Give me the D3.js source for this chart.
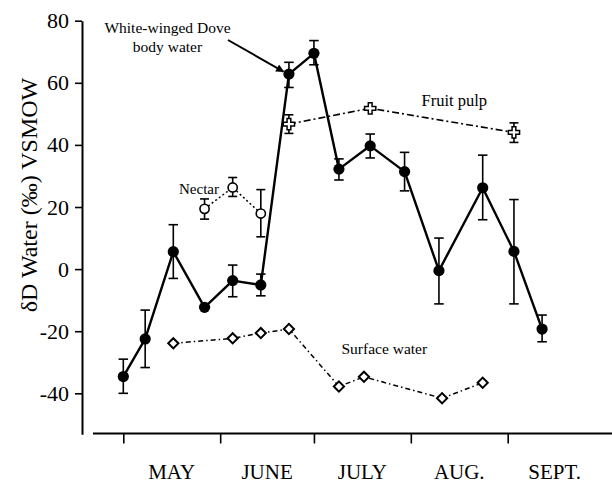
<!DOCTYPE html>
<html>
<head>
<meta charset="utf-8">
<script src="https://cdn.jsdelivr.net/npm/d3@7/dist/d3.min.js"></script>
<style>
  html, body { margin: 0; padding: 0; background: #fff; }
  svg { display: block; }
  svg text { font-family: "Liberation Serif", "Times New Roman", Times, "DejaVu Serif", serif; fill: #000; }
</style>
</head>
<body>
<svg id="chart" width="612" height="487"></svg>
<script>
// Sampling dates (month-day, one season)
const doveDates  = ["05-01","05-08","05-17","05-27","06-05","06-14","06-23","07-01","07-09","07-19","07-30","08-10","08-24","09-03","09-12"];
const doveMean   = [-34.6, -22.5, 5.6, -12.3, -3.7, -5.1, 62.8, 69.5, 32.2, 39.7, 31.4, -0.5, 26.2, 5.7, -19.3];
const doveHigh   = [-29.0, -13.2, 14.3, null, 1.3, -1.6, 66.6, 73.6, 35.5, 43.5, 37.6, 10.0, 36.7, 22.4, -14.8];
const doveLow    = [-40.0, -31.7, -3.0, null, -8.9, -8.6, 58.5, 65.8, 28.7, 35.8, 25.2, -11.2, 15.9, -11.2, -23.4];

const nectarDates = ["05-27","06-05","06-14"];
const nectarMean  = [19.4, 26.3, 17.9];
const nectarHigh  = [22.6, 29.5, 25.6];
const nectarLow   = [16.1, 23.4, 10.4];

const fruitDates = ["06-23","07-19","09-03"];
const fruitMean  = [46.7, 51.8, 44.0];
const fruitHigh  = [49.7, null, 47.1];
const fruitLow   = [43.7, null, 40.8];

const surfaceDates = ["05-17","06-05","06-14","06-23","07-09","07-17","08-11","08-24"];
const surfaceMean  = [-23.9, -22.3, -20.6, -19.3, -37.8, -34.7, -41.6, -36.6];

const monthLabels = ["MAY","JUNE","JULY","AUG.","SEPT."];
const monthStarts = ["05-01","06-01","07-01","08-01","09-01","10-01"];
const yTicks = [-40, -20, 0, 20, 40, 60, 80];

const SERIF = "'Liberation Serif', 'Times New Roman', Times, 'DejaVu Serif', serif";

const parse = d3.timeParse("%Y-%m-%d");
const day = s => parse("1996-" + s);

function series(dates, mean, high, low) {
  return dates.map((d, i) => ({
    date: day(d), v: mean[i],
    hi: high ? high[i] : null, lo: low ? low[i] : null
  }));
}
const dove = series(doveDates, doveMean, doveHigh, doveLow);
const nectar = series(nectarDates, nectarMean, nectarHigh, nectarLow);
const fruit = series(fruitDates, fruitMean, fruitHigh, fruitLow);
const surface = series(surfaceDates, surfaceMean, null, null);

const svg = d3.select("#chart");

const x = d3.scaleTime().domain([day("05-01"), day("09-01")]).range([123.3, 507.7]);
const y = d3.scaleLinear().domain([-53.2, 80]).range([434.3, 20.7]);

// Y axis
const yAxis = svg.append("g")
  .attr("transform", "translate(82,0)")
  .attr("font-family", SERIF)
  .call(d3.axisLeft(y).tickValues(yTicks).tickSize(7).tickSizeOuter(0).tickPadding(6)
    .tickFormat(d => String(d)));
yAxis.attr("font-family", SERIF).attr("font-size", 22);
yAxis.select(".domain").attr("stroke-width", 2);
yAxis.selectAll(".tick line").attr("stroke-width", 1.6);
yAxis.selectAll(".tick text")
  .attr("font-family", SERIF)
  .style("font-family", SERIF)
  .style("font-size", "22px");

svg.append("text")
  .attr("transform", "translate(37,195) rotate(-90)")
  .attr("text-anchor", "middle")
  .attr("font-family", SERIF)
  .style("font-size", "24px")
  .text("δD Water (‰) VSMOW");

// X axis: baseline, month-start ticks, month names centred in each month
const xAxisY = 433.5;
svg.append("line")
  .attr("x1", 93).attr("x2", 612).attr("y1", xAxisY).attr("y2", xAxisY)
  .attr("stroke", "#000").attr("stroke-width", 2);
const xAxis = svg.append("g")
  .attr("transform", `translate(0,${xAxisY})`)
  .call(d3.axisBottom(x).tickValues(monthStarts.slice(0, 5).map(day)).tickSize(10).tickFormat(""));
xAxis.select(".domain").remove();
xAxis.selectAll(".tick line").attr("stroke-width", 1.6);

svg.append("g").selectAll("text")
  .data(monthLabels)
  .join("text")
  .attr("x", (d, i) => (x(day(monthStarts[i])) + x(day(monthStarts[i + 1]))) / 2)
  .attr("y", 479)
  .attr("text-anchor", "middle")
  .attr("font-family", SERIF)
  .style("font-size", "21px")
  .text(d => d);

// Error bars with caps
function errorBars(data, capW) {
  const g = svg.append("g").attr("stroke", "#000").attr("stroke-width", 1.6);
  const withErr = data.filter(d => d.hi != null);
  g.selectAll("line.stem").data(withErr).join("line")
    .attr("x1", d => x(d.date)).attr("x2", d => x(d.date))
    .attr("y1", d => y(d.hi)).attr("y2", d => y(d.lo));
  g.selectAll("line.top").data(withErr).join("line")
    .attr("x1", d => x(d.date) - capW / 2).attr("x2", d => x(d.date) + capW / 2)
    .attr("y1", d => y(d.hi)).attr("y2", d => y(d.hi));
  g.selectAll("line.bot").data(withErr).join("line")
    .attr("x1", d => x(d.date) - capW / 2).attr("x2", d => x(d.date) + capW / 2)
    .attr("y1", d => y(d.lo)).attr("y2", d => y(d.lo));
}

const line = d3.line().x(d => x(d.date)).y(d => y(d.v));

// Surface water
svg.append("path").datum(surface).attr("d", line)
  .attr("fill", "none").attr("stroke", "#000").attr("stroke-width", 1.5)
  .attr("stroke-dasharray", "5,3,1.5,3");
svg.append("g").selectAll("path").data(surface).join("path")
  .attr("d", d3.symbol(d3.symbolSquare, 52)())
  .attr("transform", d => `translate(${x(d.date)},${y(d.v)}) rotate(45)`)
  .attr("fill", "#fff").attr("stroke", "#000").attr("stroke-width", 2);

// Nectar
svg.append("path").datum(nectar).attr("d", line)
  .attr("fill", "none").attr("stroke", "#000").attr("stroke-width", 1.5)
  .attr("stroke-dasharray", "2,2.5");
errorBars(nectar, 9);
svg.append("g").selectAll("circle").data(nectar).join("circle")
  .attr("cx", d => x(d.date)).attr("cy", d => y(d.v)).attr("r", 4.6)
  .attr("fill", "#fff").attr("stroke", "#000").attr("stroke-width", 1.6);

// Fruit pulp
svg.append("path").datum(fruit).attr("d", line)
  .attr("fill", "none").attr("stroke", "#000").attr("stroke-width", 1.6)
  .attr("stroke-dasharray", "7,3,2,3");
errorBars(fruit, 9);
svg.append("g").selectAll("path").data(fruit).join("path")
  .attr("d", d3.symbol(d3.symbolCross, 70)())
  .attr("transform", d => `translate(${x(d.date)},${y(d.v)})`)
  .attr("fill", "#fff").attr("stroke", "#000").attr("stroke-width", 1.5);

// White-winged Dove body water
svg.append("path").datum(dove).attr("d", line)
  .attr("fill", "none").attr("stroke", "#000").attr("stroke-width", 2.4)
  .attr("stroke-linejoin", "round");
errorBars(dove, 9.5);
svg.append("g").selectAll("circle").data(dove).join("circle")
  .attr("cx", d => x(d.date)).attr("cy", d => y(d.v)).attr("r", 5.6)
  .attr("fill", "#000");

// Series labels
svg.append("defs").append("marker")
  .attr("id", "arrowhead").attr("viewBox", "0 0 10 10")
  .attr("refX", 9).attr("refY", 5)
  .attr("markerWidth", 11).attr("markerHeight", 8)
  .attr("markerUnits", "userSpaceOnUse")
  .attr("orient", "auto")
  .append("path").attr("d", "M0,0 L10,5 L0,10 Z").attr("fill", "#000");

const target = dove[6];
svg.append("line")
  .attr("x1", 228).attr("y1", 40)
  .attr("x2", x(target.date) - 5.5).attr("y2", y(target.v) - 2.5)
  .attr("stroke", "#000").attr("stroke-width", 2)
  .attr("marker-end", "url(#arrowhead)");

const note = svg.append("text").attr("text-anchor", "middle")
  .attr("font-family", SERIF).style("font-size", "15.5px");
note.append("tspan").attr("x", 167.5).attr("y", 33).text("White-winged Dove");
note.append("tspan").attr("x", 167.5).attr("y", 52).text("body water");

svg.append("text").attr("x", 219).attr("y", 194).attr("text-anchor", "end")
  .attr("font-family", SERIF).style("font-size", "15px").text("Nectar");
svg.append("text").attr("x", 421.5).attr("y", 106)
  .attr("font-family", SERIF).style("font-size", "16.5px").text("Fruit pulp");
svg.append("text").attr("x", 341.5).attr("y", 354)
  .attr("font-family", SERIF).style("font-size", "15.5px").text("Surface water");
</script>
</body>
</html>
